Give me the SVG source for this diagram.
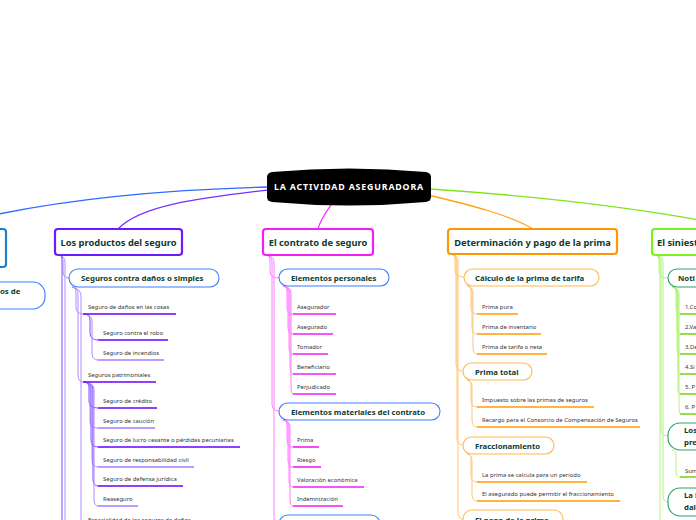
<svg xmlns="http://www.w3.org/2000/svg" width="696" height="520" viewBox="0 0 696 520">
<style>
text{font-family:"Noto Sans","Open Sans","DejaVu Sans",sans-serif}
.b1{fill:#fff;stroke-width:2.2}
.t1{font-weight:bold;font-size:9.3px;fill:#0d3b2f}
.pl{fill:#fff;stroke-width:1.1}
.t2{font-weight:bold;font-size:7.8px;fill:#0d3b2f}
.t3{font-size:5.9px;fill:#333}
.ul{stroke-width:1.6;fill:none}
.cn{fill:none;stroke-width:1}
.rc{fill:none;stroke-width:1.3}
</style>
<g id="connectors">
<path class="rc" stroke="#2f6bff" d="M268 187 C150 190 60 200 -20 218"/>
<path class="rc" stroke="#7b2cff" d="M268 190 C200 198 140 205 118 229"/>
<path class="rc" stroke="#ff33ff" d="M333 202 C326 212 320 220 318 229"/>
<path class="rc" stroke="#ffa31a" d="M428 195 C470 205 510 215 533 229"/>
<path class="rc" stroke="#7ee51f" d="M430 189 C520 195 620 205 710 222"/>
<g stroke="#b08cff" class="cn">
<path d="M59 255 Q63 255 63 261 L63 271 Q63 278 69 278"/>
<path stroke="#7c4dff" d="M59 255 Q62 255 62 261 L62 530"/>
<path d="M59 255 Q65 256 65 262 L65 530"/>
<path d="M72 287 Q76 287 76 293 L76 307 Q76 314 83 314"/>
<path d="M72 287 Q78 288 78 294 L78 375 Q78 382 83 382"/>
<path d="M72 287 Q81 289 81 296 L81 518 Q81 525 86 525"/>
<path stroke="#7c4dff" d="M84 314 Q90 314 90 320 L90 333 Q90 340 98 340"/>
<path d="M84 314 Q92 315 92 321 L92 353 Q92 360 98 360"/>
<path stroke="#7c4dff" d="M84 382 Q89 382 89 388 L89 401 Q89 408 98 408"/>
<path d="M84 382 Q90 382 90 388 L90 421 Q90 428 98 428"/>
<path stroke="#7c4dff" d="M84 382 Q91 383 91 389 L91 440 Q91 447 98 447"/>
<path d="M84 382 Q92 383 92 389 L92 460 Q92 467 98 467"/>
<path stroke="#7c4dff" d="M84 382 Q93 383 93 389 L93 479 Q93 486 98 486"/>
<path d="M84 382 Q94 383 94 389 L94 499 Q94 506 98 506"/>
</g>
<g stroke="#ff80ff" class="cn">
<path d="M266 255 Q270 255 270 261 L270 271 Q270 278 279 278"/>
<path d="M266 255 Q272 256 272 262 L272 404 Q272 411 279 411"/>
<path d="M266 255 Q274 256 274 262 L274 517 Q274 524 279 524"/>
<path d="M283 286 Q287 286 287 292 L287 307 Q287 314 293 314"/>
<path d="M283 286 Q288 287 288 293 L288 327 Q288 334 293 334"/>
<path d="M283 286 Q289 287 289 293 L289 347 Q289 354 293 354"/>
<path d="M283 286 Q290 287 290 293 L290 367 Q290 374 293 374"/>
<path d="M283 286 Q291 287 291 293 L291 387 Q291 394 293 394"/>
<path d="M283 420 Q287 420 287 426 L287 440 Q287 447 293 447"/>
<path d="M283 420 Q288 421 288 427 L288 460 Q288 467 293 467"/>
<path d="M283 420 Q289 421 289 427 L289 480 Q289 487 293 487"/>
<path d="M283 420 Q290 421 290 427 L290 499 Q290 506 293 506"/>
</g>
<g stroke="#ffc67a" class="cn">
<path d="M451 254 Q455 254 455 260 L455 270 Q455 277 464 277"/>
<path d="M451 254 Q456 255 456 261 L456 364 Q456 371 463 371"/>
<path d="M451 254 Q457 255 457 261 L457 438 Q457 445 463 445"/>
<path d="M451 254 Q458 255 458 261 L458 512 Q458 519 463 519"/>
<path d="M467 286 Q471 286 471 292 L471 307 Q471 314 477 314"/>
<path d="M467 286 Q472 287 472 293 L472 327 Q472 334 477 334"/>
<path d="M467 286 Q473 287 473 293 L473 347 Q473 354 477 354"/>
<path d="M467 380 Q471 380 471 386 L471 400 Q471 407 477 407"/>
<path d="M467 380 Q472 381 472 387 L472 420 Q472 427 477 427"/>
<path d="M467 454 Q471 454 471 460 L471 475 Q471 482 477 482"/>
<path d="M467 454 Q472 455 472 461 L472 494 Q472 501 477 501"/>
</g>
<g stroke="#b4f27f" class="cn">
<path d="M655 255 Q659 255 659 261 L659 271 Q659 278 668 278"/>
<path d="M655 255 Q661 256 661 262 L661 429 Q661 436 668 436"/>
<path d="M655 255 Q663 256 663 262 L663 495 Q663 502 668 502"/>
<path d="M655 255 Q660 256 660 262 L660 530"/>
<path d="M672 287 Q676 287 676 293 L676 307 Q676 314 680 314"/>
<path d="M672 287 Q677 288 677 294 L677 327 Q677 334 680 334"/>
<path d="M672 287 Q677 288 677 294 L677 347 Q677 354 680 354"/>
<path d="M672 287 Q678 288 678 294 L678 367 Q678 374 680 374"/>
<path d="M672 287 Q678 288 678 294 L678 387 Q678 394 680 394"/>
<path d="M672 287 Q679 288 679 294 L679 407 Q679 414 681 414"/>
<path d="M672 450 Q676 450 676 456 L676 470 Q676 477 680 477"/>
</g>
</g>
<g id="n_root">
<path fill="#000" d="M272 172 Q349 165 426 172 Q431 173 431 177 L431 197 Q431 201 426 202 Q349 209 272 202 Q267 201 267 197 L267 177 Q267 173 272 172 Z"/>
<text x="349" y="190.2" text-anchor="middle" font-weight="bold" font-size="8.8px" letter-spacing="0.85" fill="#fff">LA ACTIVIDAD ASEGURADORA</text>
</g>
<g id="n_left">
<rect class="b1" stroke="#1f7fc8" x="-60" y="229" width="66" height="38" rx="3"/>
</g>
<g id="n_left_child">
<rect class="pl" stroke="#3b7cff" x="-80" y="282" width="125" height="27" rx="12"/>
<text class="t2" x="0" y="293.5">os de</text>
</g>
<g id="n_productos">
<rect class="b1" stroke="#6a1bff" x="55" y="229" width="127" height="26" rx="3"/>
<text class="t1" x="118.5" y="246.2" text-anchor="middle">Los productos del seguro</text>
</g>
<g id="n_danos">
<rect class="pl" stroke="#3b7cff" x="69" y="269" width="150" height="18" rx="9"/>
<text class="t2" x="81" y="280.8">Seguros contra daños o simples</text>
</g>
<g id="n_danos_cosas"><text class="t3" x="88" y="309">Seguro de daños en las cosas</text><path class="ul" stroke="#6a00ff" stroke-width="2" d="M83 314 H176"/></g>
<g id="n_robo"><text class="t3" x="103" y="335">Seguro contra el robo</text><path class="ul" stroke="#6a00ff" d="M98 340 H168"/></g>
<g id="n_incendios"><text class="t3" x="103" y="355">Seguro de incendios</text><path class="ul" stroke="#a77bff" d="M98 360 H164"/></g>
<g id="n_patrimoniales"><text class="t3" x="88" y="377">Seguros patrimoniales</text><path class="ul" stroke="#6a00ff" stroke-width="2" d="M83 382 H156"/></g>
<g id="n_credito"><text class="t3" x="103" y="403">Seguro de crédito</text><path class="ul" stroke="#6a00ff" d="M98 408 H157"/></g>
<g id="n_caucion"><text class="t3" x="103" y="423">Seguro de caución</text><path class="ul" stroke="#a77bff" d="M98 428 H155"/></g>
<g id="n_lucro"><text class="t3" x="103" y="442">Seguro de lucro cesante o pérdidas pecuniarias</text><path class="ul" stroke="#6a00ff" d="M98 447 H240"/></g>
<g id="n_rc"><text class="t3" x="103" y="462">Seguro de responsabilidad civil</text><path class="ul" stroke="#a77bff" d="M98 467 H194"/></g>
<g id="n_defensa"><text class="t3" x="103" y="481">Seguro de defensa jurídica</text><path class="ul" stroke="#6a00ff" d="M98 486 H183"/></g>
<g id="n_reaseguro"><text class="t3" x="103" y="501">Reaseguro</text><path class="ul" stroke="#a77bff" d="M98 506 H138"/></g>
<g id="n_especialidad"><text class="t3" x="88" y="521.5">Especialidad de los seguros de daños</text></g>
<g id="n_contrato">
<rect class="b1" stroke="#f21ef2" x="263" y="229" width="110" height="26" rx="3"/>
<text class="t1" x="318" y="246.2" text-anchor="middle">El contrato de seguro</text>
</g>
<g id="n_personales">
<rect class="pl" stroke="#3b7cff" x="279" y="269" width="110" height="17" rx="8.5"/>
<text class="t2" x="291" y="280.6">Elementos personales</text>
</g>
<g id="n_asegurador"><text class="t3" x="297" y="309">Asegurador</text><path class="ul" stroke="#f21ef2" d="M293 314 H336"/></g>
<g id="n_asegurado"><text class="t3" x="297" y="329">Asegurado</text><path class="ul" stroke="#f21ef2" d="M293 334 H333"/></g>
<g id="n_tomador"><text class="t3" x="297" y="349">Tomador</text><path class="ul" stroke="#f21ef2" d="M293 354 H328"/></g>
<g id="n_beneficiario"><text class="t3" x="297" y="369">Beneficiario</text><path class="ul" stroke="#f21ef2" d="M293 374 H336"/></g>
<g id="n_perjudicado"><text class="t3" x="297" y="389">Perjudicado</text><path class="ul" stroke="#f21ef2" d="M293 394 H336"/></g>
<g id="n_materiales">
<rect class="pl" stroke="#3b7cff" x="279" y="403" width="161" height="17" rx="8.5"/>
<text class="t2" x="291" y="414.6">Elementos materiales del contrato</text>
</g>
<g id="n_prima_el"><text class="t3" x="297" y="442">Prima</text><path class="ul" stroke="#f21ef2" d="M293 447 H319"/></g>
<g id="n_riesgo"><text class="t3" x="297" y="462">Riesgo</text><path class="ul" stroke="#f21ef2" d="M293 467 H321"/></g>
<g id="n_valoracion"><text class="t3" x="297" y="482">Valoración económica</text><path class="ul" stroke="#f21ef2" d="M293 487 H364"/></g>
<g id="n_indemnizacion"><text class="t3" x="297" y="501">Indemnización</text><path class="ul" stroke="#f21ef2" d="M293 506 H343"/></g>
<g id="n_contrato_next">
<rect class="pl" stroke="#3b7cff" x="279" y="515" width="101" height="18" rx="9"/>
</g>
<g id="n_prima">
<rect class="b1" stroke="#ff9800" x="448" y="229" width="169" height="25" rx="3"/>
<text class="t1" x="532.5" y="245.7" text-anchor="middle">Determinación y pago de la prima</text>
</g>
<g id="n_calculo">
<rect class="pl" stroke="#ffb84d" x="464" y="269" width="135" height="17" rx="8.5"/>
<text class="t2" x="475" y="280.6">Cálculo de la prima de tarifa</text>
</g>
<g id="n_pura"><text class="t3" x="482" y="309">Prima pura</text><path class="ul" stroke="#ff9a00" d="M477 314 H518"/></g>
<g id="n_inventario"><text class="t3" x="482" y="329">Prima de inventario</text><path class="ul" stroke="#ff9a00" d="M477 334 H541"/></g>
<g id="n_neta"><text class="t3" x="482" y="349">Prima de tarifa o neta</text><path class="ul" stroke="#ff9a00" d="M477 354 H547"/></g>
<g id="n_total">
<rect class="pl" stroke="#ffb84d" x="463" y="363" width="69" height="17" rx="8.5"/>
<text class="t2" x="475" y="374.6">Prima total</text>
</g>
<g id="n_impuesto"><text class="t3" x="482" y="402">Impuesto sobre las primas de seguros</text><path class="ul" stroke="#ff9a00" d="M477 407 H594"/></g>
<g id="n_recargo"><text class="t3" x="482" y="422">Recargo para el Consorcio de Compensación de Seguros</text><path class="ul" stroke="#ff9a00" d="M477 427 H640"/></g>
<g id="n_fracc">
<rect class="pl" stroke="#ffb84d" x="463" y="437" width="91" height="17" rx="8.5"/>
<text class="t2" x="475" y="448.6">Fraccionamiento</text>
</g>
<g id="n_periodo"><text class="t3" x="482" y="477">La prima se calcula para un periodo</text><path class="ul" stroke="#ff9a00" d="M477 482 H587"/></g>
<g id="n_permitir"><text class="t3" x="482" y="496">El asegurado puede permitir el fraccionamiento</text><path class="ul" stroke="#ff9a00" d="M477 501 H620"/></g>
<g id="n_pago">
<rect class="pl" stroke="#ffb84d" x="463" y="510" width="100" height="18" rx="9"/>
<text class="t2" x="475" y="522.5">El pago de la prima</text>
</g>
<g id="n_siniestro">
<rect class="b1" stroke="#7cf01a" x="652" y="229" width="80" height="26" rx="3"/>
<text class="t1" x="657" y="246.2">El siniestro</text>
</g>
<g id="n_noti">
<rect class="pl" stroke="#2aa36a" x="668" y="269" width="60" height="18" rx="9"/>
<text class="t2" x="678" y="281">Noti</text>
</g>
<g id="n_s1"><text class="t3" x="685" y="309">1.Co</text><path class="ul" stroke="#7ed321" d="M680 314 H700"/></g>
<g id="n_s2"><text class="t3" x="685" y="329">2.Va</text><path class="ul" stroke="#7ed321" d="M680 334 H700"/></g>
<g id="n_s3"><text class="t3" x="685" y="349">3.De</text><path class="ul" stroke="#7ed321" d="M680 354 H700"/></g>
<g id="n_s4"><text class="t3" x="685" y="369">4.Si</text><path class="ul" stroke="#7ed321" d="M680 374 H700"/></g>
<g id="n_s5"><text class="t3" x="685" y="389">5. P</text><path class="ul" stroke="#7ed321" d="M680 394 H700"/></g>
<g id="n_s6"><text class="t3" x="685" y="409">6. P</text><path class="ul" stroke="#7ed321" d="M680 414 H700"/></g>
<g id="n_lospre">
<rect class="pl" stroke="#2aa36a" x="668" y="423" width="60" height="27" rx="12"/>
<text class="t2" x="684" y="432.5">Los</text>
<text class="t2" x="684" y="445">pre</text>
</g>
<g id="n_sum"><text class="t3" x="685" y="473">Sum</text><path class="ul" stroke="#7ed321" d="M680 477 H700"/></g>
<g id="n_lai">
<rect class="pl" stroke="#2aa36a" x="668" y="488" width="60" height="28" rx="12"/>
<text class="t2" x="684" y="498">La i</text>
<text class="t2" x="684" y="509.5">dai</text>
</g>
</svg>
